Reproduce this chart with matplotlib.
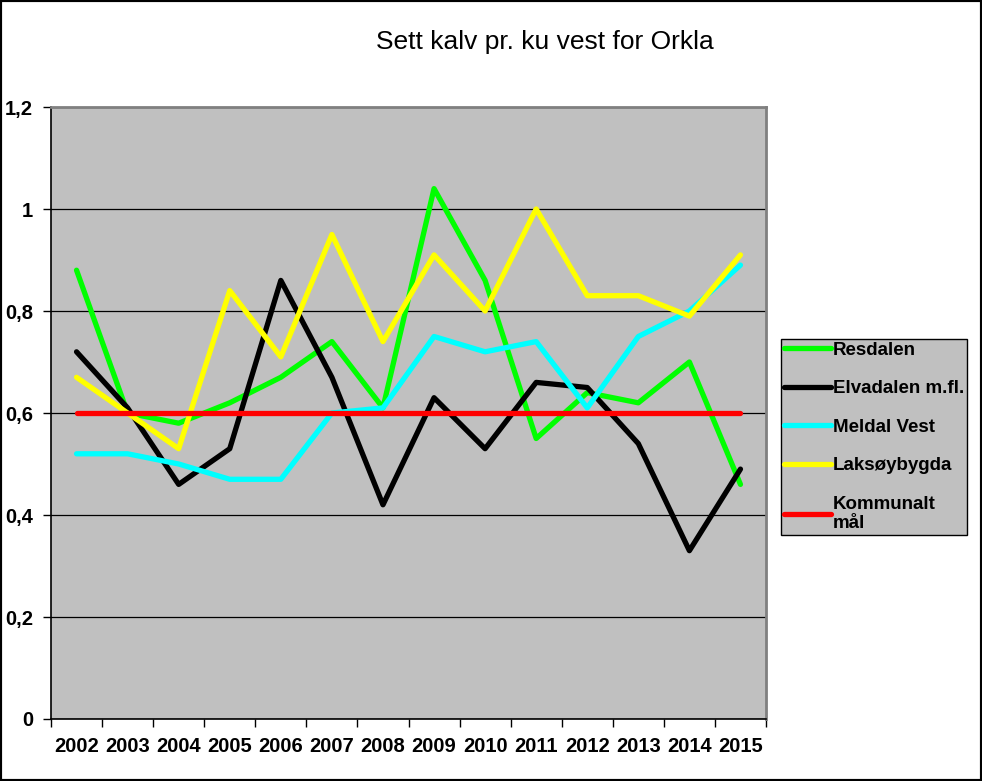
import matplotlib

matplotlib.use("Agg")
import matplotlib.pyplot as plt
import numpy as np
from matplotlib.patches import Rectangle
from matplotlib.ticker import FixedLocator, FuncFormatter

plt.rcParams["font.family"] = ["Liberation Sans", "DejaVu Sans"]

years = ["2002", "2003", "2004", "2005", "2006", "2007", "2008",
         "2009", "2010", "2011", "2012", "2013", "2014", "2015"]
resdalen = [0.88, 0.60, 0.58, 0.62, 0.67, 0.74, 0.61,
            1.04, 0.86, 0.55, 0.64, 0.62, 0.70, 0.46]
elvadalen = [0.72, 0.61, 0.46, 0.53, 0.86, 0.67, 0.42,
             0.63, 0.53, 0.66, 0.65, 0.54, 0.33, 0.49]
meldal_vest = [0.52, 0.52, 0.50, 0.47, 0.47, 0.60, 0.61,
               0.75, 0.72, 0.74, 0.61, 0.75, 0.80, 0.89]
laksoybygda = [0.67, 0.60, 0.53, 0.84, 0.71, 0.95, 0.74,
               0.91, 0.80, 1.00, 0.83, 0.83, 0.79, 0.91]
kommunalt_maal = [0.6] * 14

series = [
    ("Resdalen", resdalen, "#00FF00"),
    ("Elvadalen m.fl.", elvadalen, "#000000"),
    ("Meldal Vest", meldal_vest, "#00FFFF"),
    ("Laksøybygda", laksoybygda, "#FFFF00"),
    ("Kommunalt\nmål", kommunalt_maal, "#FF0000"),
]

fig = plt.figure(figsize=(9.82, 7.81), dpi=100)
ax = fig.add_axes([51 / 982, 1 - 719 / 781, 715 / 982, 612 / 781])
ax.set_facecolor("#C0C0C0")

x = np.arange(len(years))
for name, vals, col in series:
    ax.plot(x, vals, color=col, lw=3.8, label=name, solid_capstyle="round")

ax.set_xlim(-0.5, len(years) - 0.5)
ax.set_ylim(0, 1.2)
ax.set_yticks(np.arange(0, 1.21, 0.2))
ax.yaxis.set_major_formatter(
    FuncFormatter(lambda v, p: f"{v:g}".replace(".", ","))
)
ax.grid(axis="y", color="black", lw=0.9)
ax.set_axisbelow(True)

ax.set_xticks(x)
ax.set_xticklabels(years)
ax.tick_params(axis="x", which="major", length=0, pad=13)
ax.xaxis.set_minor_locator(FixedLocator(np.arange(-0.5, len(years), 1)))
ax.tick_params(axis="x", which="minor", length=6, direction="out", width=1)
ax.tick_params(axis="y", length=6, width=1, pad=7)
for lab in ax.get_xticklabels() + ax.get_yticklabels():
    lab.set_fontweight("bold")
    lab.set_fontsize(14.5)

for s in ("top", "right"):
    ax.spines[s].set_color("#808080")
    ax.spines[s].set_linewidth(2)
for s in ("left", "bottom"):
    ax.spines[s].set_color("black")
    ax.spines[s].set_linewidth(1.2)

fig.text(545 / 982, 1 - 42 / 781, "Sett kalv pr. ku vest for Orkla",
         ha="center", va="center", fontsize=19)

leg = fig.legend(loc="upper left", bbox_to_anchor=(781 / 982, 1 - 339 / 781),
                 prop={"weight": "bold", "size": 13.5}, fancybox=False,
                 facecolor="#C0C0C0", edgecolor="black", framealpha=1,
                 handlelength=2.5, handletextpad=0.1, labelspacing=1.14,
                 borderpad=0.15, borderaxespad=0)
leg.get_frame().set_linewidth(1)

fig.patches.append(Rectangle((0, 0), 1, 1, transform=fig.transFigure,
                             fill=False, edgecolor="black", lw=3))

fig.savefig("out.png", dpi=100)
